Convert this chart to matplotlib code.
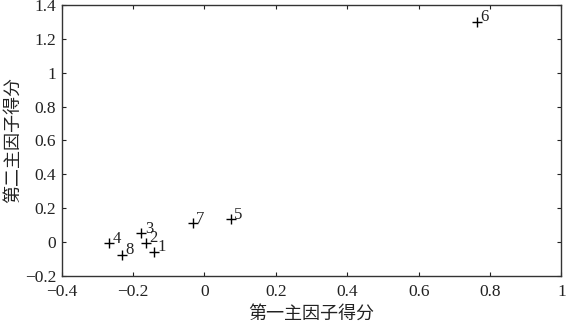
import matplotlib
matplotlib.use("Agg")
import matplotlib.pyplot as plt

# scores on the first and second principal factor
labels = ["1", "2", "3", "4", "5", "6", "7", "8"]
f1 = [-0.141, -0.164, -0.177, -0.267, 0.073, 0.764, -0.033, -0.232]
f2 = [-0.058, -0.005, 0.051, -0.008, 0.134, 1.301, 0.110, -0.077]

xticks = [-0.4, -0.2, 0, 0.2, 0.4, 0.6, 0.8, 1]
yticks = [-0.2, 0, 0.2, 0.4, 0.6, 0.8, 1, 1.2, 1.4]

plt.rcParams['font.family'] = ['Liberation Serif', 'Noto Sans CJK SC']
cjk = ['Noto Sans CJK SC', 'DejaVu Sans']

fig = plt.figure(figsize=(5.66, 3.28), dpi=100)
ax = fig.add_axes([0.109, 0.159, 0.883, 0.826])

ax.plot(f1, f2, '+', color='black', markersize=6.5, markeredgewidth=1.0)
for lab, x, y in zip(labels, f1, f2):
    ax.annotate(lab, (x, y), xytext=(2.5, 0.5), textcoords='offset points',
                ha='left', va='baseline', fontsize=12, color='#222222')

ax.set_xlim(-0.4, 1)
ax.set_ylim(-0.2, 1.4)
ax.set_xticks(xticks)
ax.set_yticks(yticks)
ax.set_xticklabels(["\u22120.4", "\u22120.2", "0", "0.2", "0.4", "0.6", "0.8", "1"])
ax.set_yticklabels(["\u22120.2", "0", "0.2", "0.4", "0.6", "0.8", "1", "1.2", "1.4"])
ax.tick_params(direction='in', top=True, right=True, length=3, labelsize=12.5,
               colors='#222222')
ax.tick_params(axis='x', pad=6)
ax.tick_params(axis='y', pad=4)
for s in ax.spines.values():
    s.set_linewidth(1.0)
    s.set_color('#333333')

ax.set_xlabel("第一主因子得分", family=cjk, fontsize=13,
              color='#222222', labelpad=3)
ax.set_ylabel("第二主因子得分", family=cjk, fontsize=13,
              color='#222222', labelpad=2)

fig.savefig("out.png", dpi=100)
